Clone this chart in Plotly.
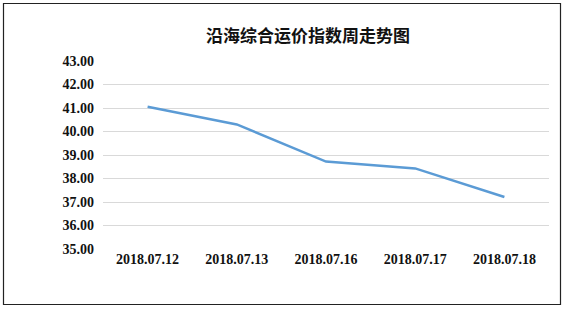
import plotly.graph_objects as go

title_text = "沿海综合运价指数周走势图"
dates = ["2018.07.12", "2018.07.13", "2018.07.16", "2018.07.17", "2018.07.18"]
index_values = [41.05, 40.30, 38.72, 38.43, 37.21]
y_ticks = [35, 36, 37, 38, 39, 40, 41, 42, 43]
y_tick_labels = [f"{v:.2f}" for v in y_ticks]

W, H = 566, 310
L, R, T, B = 103, 17, 61, 61
pw, ph = W - L - R, H - T - B

def px_to_paper_x(px):
    return (px - L) / pw

def px_to_paper_y(py):
    return (H - B - py) / ph

fig = go.Figure()
fig.add_trace(go.Scatter(
    x=list(range(len(dates))), y=index_values, mode="lines",
    line=dict(color="#5B9BD5", width=2.5),
    hoverinfo="skip", showlegend=False,
))

fig.update_layout(
    width=W, height=H,
    margin=dict(l=L, r=R, t=T, b=B),
    paper_bgcolor="white", plot_bgcolor="white",
    title=dict(text=title_text, x=px_to_paper_x(308), xref="paper", xanchor="center",
               y=1 - 36 / H, yref="container", yanchor="middle",
               font=dict(family="Noto Sans CJK SC", size=17, color="#111111", weight="bold")),
    xaxis=dict(
        tickmode="array", tickvals=list(range(len(dates))), ticktext=dates,
        range=[-0.5, len(dates) - 0.5], showgrid=False, zeroline=False,
        showline=False, ticks="", ticklen=0,
        tickfont=dict(family="Liberation Serif", size=14, color="#111111", weight="bold"),
    ),
    yaxis=dict(
        tickmode="array", tickvals=y_ticks, ticktext=y_tick_labels,
        range=[35, 43], showgrid=True, gridcolor="#D9D9D9", gridwidth=1,
        zeroline=False, showline=False, ticks="", ticklabelstandoff=8,
        tickfont=dict(family="Liberation Serif", size=14, color="#111111", weight="bold"),
    ),
    shapes=[dict(
        type="rect", xref="paper", yref="paper",
        x0=px_to_paper_x(3.5), x1=px_to_paper_x(560.5),
        y0=px_to_paper_y(304.5), y1=px_to_paper_y(3.5),
        line=dict(color="#222222", width=1.2), fillcolor="rgba(0,0,0,0)", layer="above",
    )],
)

fig.write_html("out.html")
